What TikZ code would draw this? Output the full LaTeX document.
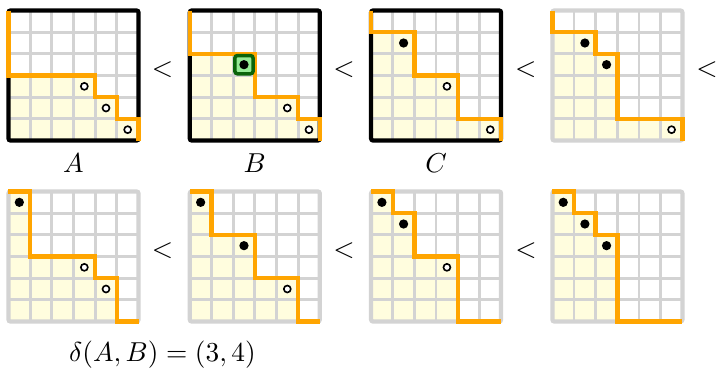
\documentclass[tikz,border=0pt]{standalone}
\definecolor{pathorange}{RGB}{255,165,0}
\definecolor{cellyellow}{RGB}{255,253,222}
\definecolor{gridgray}{RGB}{211,211,211}
\definecolor{boxgreen}{RGB}{10,100,10}
\definecolor{boxfill}{RGB}{150,235,150}
\tikzset{
  gridline/.style={gridgray, line width=1.1pt},
  frameblack/.style={black, line width=1.7pt, rounded corners=0.8pt},
  framegray/.style={gridgray, line width=1.7pt, rounded corners=0.8pt},
  orangepath/.style={pathorange, line width=1.8pt},
  fulldot/.style={fill=black},
  emptydot/.style={draw=black, fill=white, line width=0.65pt},
  greenbox/.style={draw=boxgreen, fill=boxfill, line width=1.4pt, rounded corners=1pt},
  txt/.style={inner sep=0pt, font=\fontsize{10.5}{12}\selectfont},
}
\newcommand\lattice[5]{%
  \begin{scope}[shift={(#1,#2)}, x=8.667pt, y=8.667pt]
    \fill[cellyellow] #4 -- (0,0) -- cycle;
    \foreach \i in {1,...,5} {
      \draw[gridline] (\i,0) -- (\i,6);
      \draw[gridline] (0,\i) -- (6,\i);
    }
    \draw[#3] (0,0) rectangle (6,6);
    \draw[orangepath] #4;
    #5
  \end{scope}}
\newcommand\fdot[1]{\fill[fulldot] #1 circle[radius=1.85pt];}
\newcommand\edot[1]{\draw[emptydot] #1 circle[radius=1.4pt];}
\begin{document}
\begin{tikzpicture}[x=0.4pt, y=-0.4pt]
  \fill[white] (0,0) rectangle (716,369);
  \useasboundingbox (0,0) rectangle (716,369);
  % row 1
  \lattice{8.5}{140.5}{frameblack}{(0,6) -- (0,3) -- (4,3) -- (4,2) -- (5,2) -- (5,1) -- (6,1) -- (6,0)}
    {\edot{(3.5,2.5)}\edot{(4.5,1.5)}\edot{(5.5,0.5)}}
  \lattice{189.8}{140.5}{frameblack}{(0,6) -- (0,4) -- (3,4) -- (3,2) -- (5,2) -- (5,1) -- (6,1) -- (6,0)}
    {\draw[greenbox] (2.08,3.08) rectangle (2.92,3.92); \fdot{(2.5,3.5)}\edot{(4.5,1.5)}\edot{(5.5,0.5)}}
  \lattice{371.1}{140.5}{frameblack}{(0,6) -- (0,5) -- (2,5) -- (2,3) -- (4,3) -- (4,1) -- (6,1) -- (6,0)}
    {\fdot{(1.5,4.5)}\edot{(3.5,2.5)}\edot{(5.5,0.5)}}
  \lattice{552.4}{140.5}{framegray}{(0,6) -- (0,5) -- (2,5) -- (2,4) -- (3,4) -- (3,1) -- (6,1) -- (6,0)}
    {\fdot{(1.5,4.5)}\fdot{(2.5,3.5)}\edot{(5.5,0.5)}}
  % row 2
  \lattice{8.5}{321.5}{framegray}{(0,6) -- (1,6) -- (1,3) -- (4,3) -- (4,2) -- (5,2) -- (5,0) -- (6,0)}
    {\fdot{(0.5,5.5)}\edot{(3.5,2.5)}\edot{(4.5,1.5)}}
  \lattice{189.8}{321.5}{framegray}{(0,6) -- (1,6) -- (1,4) -- (3,4) -- (3,2) -- (5,2) -- (5,0) -- (6,0)}
    {\fdot{(0.5,5.5)}\fdot{(2.5,3.5)}\edot{(4.5,1.5)}}
  \lattice{371.1}{321.5}{framegray}{(0,6) -- (1,6) -- (1,5) -- (2,5) -- (2,3) -- (4,3) -- (4,0) -- (6,0)}
    {\fdot{(0.5,5.5)}\fdot{(1.5,4.5)}\edot{(3.5,2.5)}}
  \lattice{552.4}{321.5}{framegray}{(0,6) -- (1,6) -- (1,5) -- (2,5) -- (2,4) -- (3,4) -- (3,0) -- (6,0)}
    {\fdot{(0.5,5.5)}\fdot{(1.5,4.5)}\fdot{(2.5,3.5)}}
  % relation symbols
  \node[txt] (lt1) at (162.5,70) {$<$};
  \node[txt] (lt2) at (344,70) {$<$};
  \node[txt] (lt3) at (525.7,70) {$<$};
  \node[txt] (lt4) at (707,70) {$<$};
  \node[txt] (lt5) at (162.5,250.5) {$<$};
  \node[txt] (lt6) at (344,250.5) {$<$};
  \node[txt] (lt7) at (526,250.5) {$<$};
  % labels
  \node[txt] (labA) at (73.5,163) {$A$};
  \node[txt] (labB) at (254.8,163) {$B$};
  \node[txt] (labC) at (436.1,163) {$C$};
  \node[txt] (delta) at (162.5,355) {$\delta(A,B)=(3,4)$};
\end{tikzpicture}
\end{document}
